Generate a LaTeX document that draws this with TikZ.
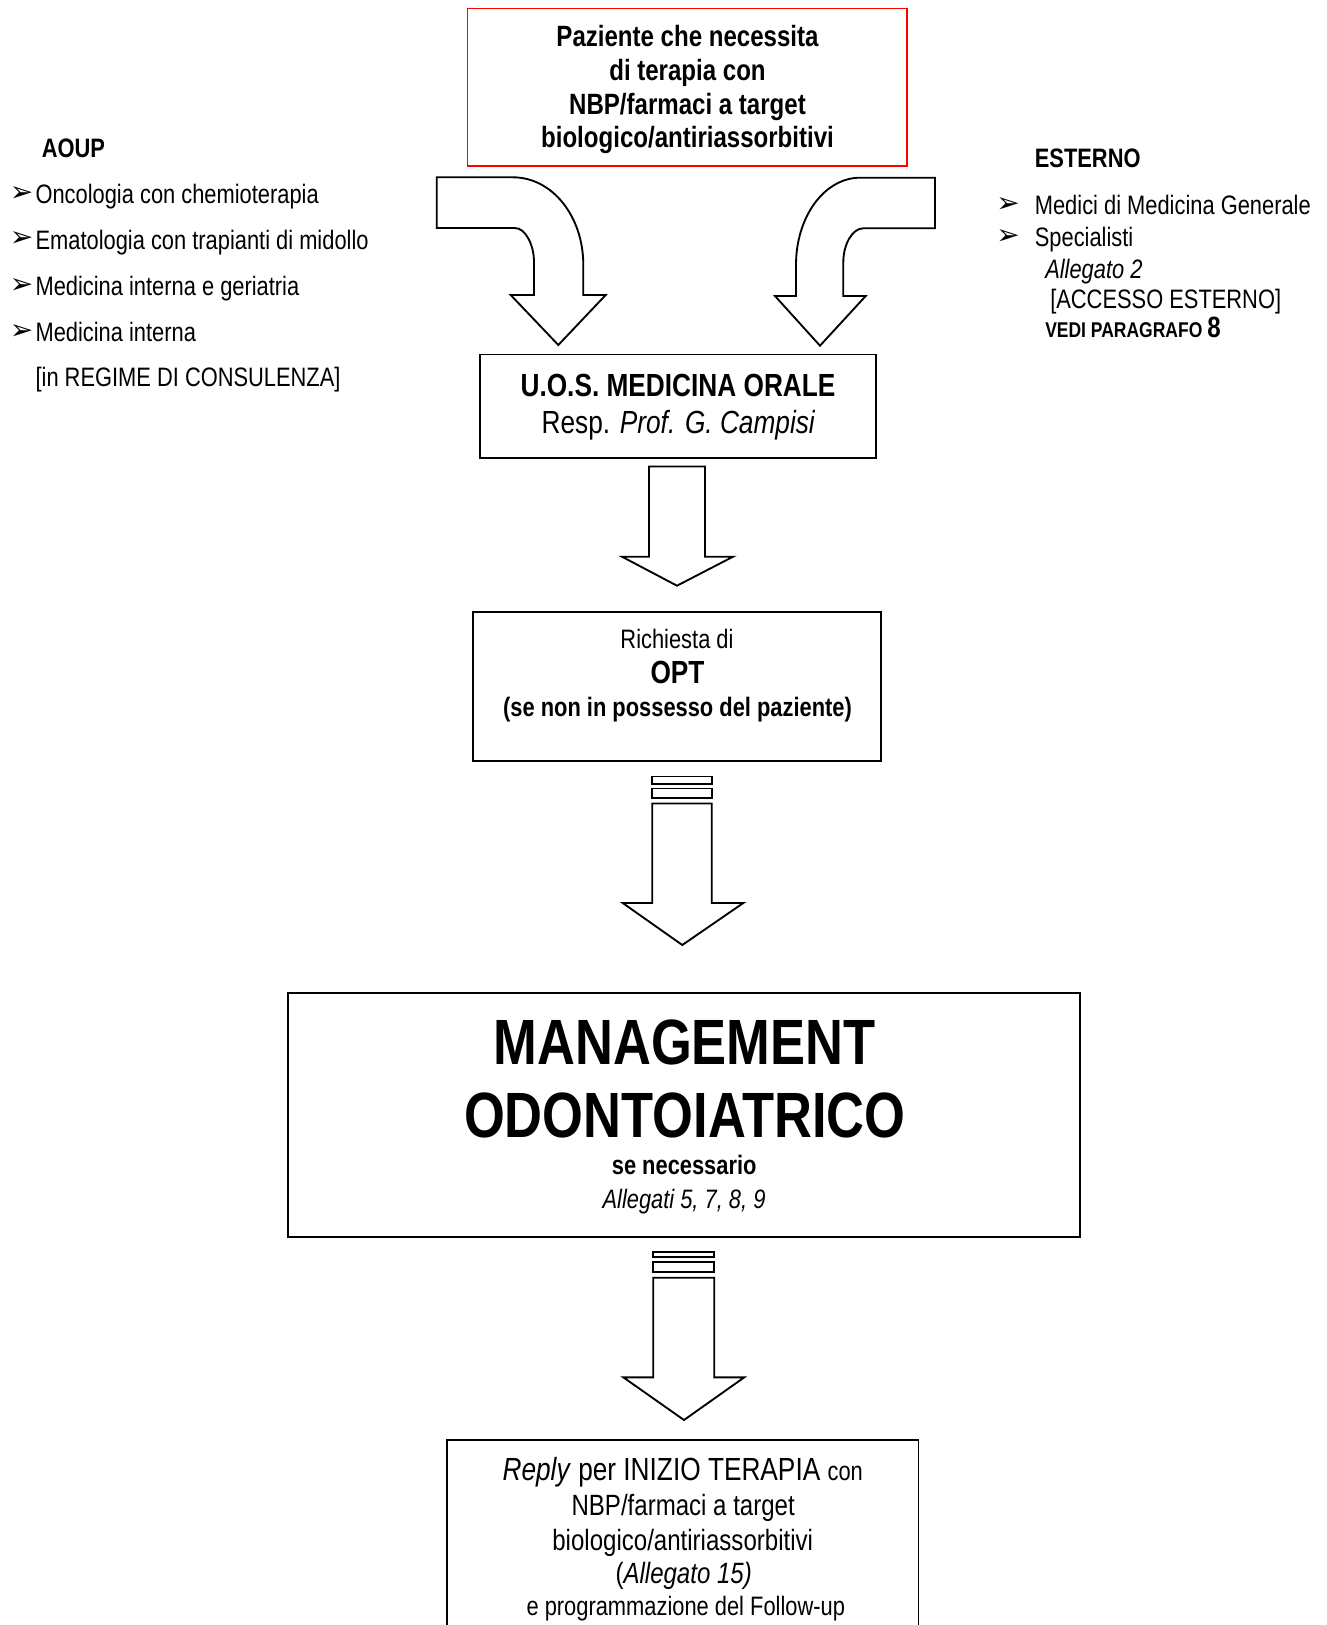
\documentclass[tikz,border=0pt]{standalone}
\usepackage{fontspec}
\setmainfont{Liberation Sans}[FakeStretch=0.82]
\newfontfamily\dejavu{DejaVu Sans}
\begin{document}
\begin{tikzpicture}[x=0.75pt,y=-0.75pt,line join=miter,
  box/.style={draw, line width=1.4pt, inner sep=0pt},
  ln/.style={anchor=base, inner sep=0pt},
  lw/.style={anchor=base west, inner sep=0pt},
  bul/.style={inner sep=0pt, font=\dejavu\fontsize{21}{21}\selectfont},
  blk/.style={draw, line width=1.4pt, fill=white},
  fA/.style={font=\fontsize{20}{24}\selectfont},
  fB/.style={font=\fontsize{22}{25}\selectfont}]
\useasboundingbox (0,0) rectangle (1327,1625);
\fill[white] (0,0) rectangle (1327,1625);

% ---------- boxes ----------
\node[box, draw=red, line width=1.2pt, minimum width=329.6pt, minimum height=118.2pt] (top) at (687.4,87.1) {};
\node[box, minimum width=297pt, minimum height=77.8pt] (uos) at (678,406.4) {};
\node[box, minimum width=306.4pt, minimum height=112pt] (opt) at (677,686.3) {};
\node[box, minimum width=594pt, minimum height=182.7pt] (man) at (684.2,1115) {};
\node[box, minimum width=353.8pt, minimum height=150pt] (rep) at (682.6,1540) {};

% ---------- top box text ----------
\node[ln, font=\bfseries\fontsize{22}{25}\selectfont] (t1) at (687.5,46.8) {Paziente che necessita};
\node[ln, font=\bfseries\fontsize{22}{25}\selectfont] (t2) at (687.5,80) {di terapia con};
\node[ln, font=\bfseries\fontsize{22}{25}\selectfont] (t3) at (687.5,114.2) {NBP/farmaci a target};
\node[ln, font=\bfseries\fontsize{22}{25}\selectfont] (t4) at (687.5,147.3) {biologico/antiriassorbitivi};

% ---------- UOS ----------
\node[ln, font=\bfseries\fontsize{24}{28}\selectfont] (u1) at (678,396) {U.O.S. MEDICINA ORALE};
\node[ln, font=\fontsize{24}{28}\selectfont] (u2) at (678.5,433.5) {Resp. \textit{Prof. G. Campisi}};

% ---------- OPT ----------
\node[ln, fA] (o1) at (677,648) {Richiesta di};
\node[ln, font=\bfseries\fontsize{24}{28}\selectfont] (o2) at (677.5,683) {OPT};
\node[ln, font=\bfseries\fontsize{20}{24}\selectfont] (o3) at (677.5,716.5) {(se non in possesso del paziente)};

% ---------- MANAGEMENT ----------
\node[ln, font=\bfseries\fontsize{48}{52}\selectfont] (m1) at (684.7,1064.8) {MANAGEMENT};
\node[ln, font=\bfseries\fontsize{48}{52}\selectfont] (m2) at (684.7,1137.5) {ODONTOIATRICO};
\node[ln, font=\bfseries\fontsize{20}{24}\selectfont] (m3) at (684.2,1174.5) {se necessario};
\node[ln, font=\itshape\fontsize{20}{24}\selectfont] (m4) at (684,1208) {Allegati 5, 7, 8, 9};

% ---------- Reply ----------
\node[ln, font=\fontsize{24}{26}\selectfont] (r1) at (682.7,1480.5) {\textit{Reply} per INIZIO TERAPIA {\fontsize{20}{22}\selectfont con}};
\node[ln, fB] (r2) at (683.2,1515.8) {NBP/farmaci a target};
\node[ln, fB] (r3) at (682.7,1550.1) {biologico/antiriassorbitivi};
\node[ln, fB] (r4) at (683.7,1583.2) {(\textit{Allegato 15)}};
\node[ln, fA] (r5) at (685.8,1615.4) {e programmazione del Follow-up};

% ---------- AOUP list ----------
\node[lw, font=\bfseries\fontsize{20}{24}\selectfont] (aoup) at (41.5,157.6) {AOUP};
\node[bul] (b1) at (21.7,193.9) {➢};
\node[lw, fA] (a1) at (35.3,203.4) {Oncologia con chemioterapia};
\node[bul] (b2) at (21.7,239.5) {➢};
\node[lw, fA] (a2) at (35.3,249) {Ematologia con trapianti di midollo};
\node[bul] (b3) at (21.7,286.1) {➢};
\node[lw, fA] (a3) at (35.3,295.6) {Medicina interna e geriatria};
\node[bul] (b4) at (21.7,331.7) {➢};
\node[lw, fA] (a4) at (35.3,341.2) {Medicina interna};
\node[lw, fA] (a5) at (35.3,386.9) {[in REGIME DI CONSULENZA]};

% ---------- ESTERNO list ----------
\node[lw, font=\bfseries\fontsize{20}{24}\selectfont] (est) at (1034.6,167) {ESTERNO};
\node[bul] (b5) at (1008,205.3) {➢};
\node[lw, fA] (e1) at (1034.6,214.8) {Medici di Medicina Generale};
\node[bul] (b6) at (1008,237.4) {➢};
\node[lw, fA] (e2) at (1034.6,246.9) {Specialisti};
\node[lw, font=\itshape\fontsize{20}{24}\selectfont] (e3) at (1045,278) {Allegato 2};
\node[lw, fA] (e4) at (1050,308) {[ACCESSO ESTERNO]};
\node[lw, font=\bfseries\fontsize{16}{18}\selectfont] (e5) at (1045,337.5) {VEDI PARAGRAFO {\fontsize{22}{24}\selectfont 8}};

% ---------- curved arrows ----------
\draw[blk] (436.7,177.3) -- (513,177.3)
  .. controls (552,177.3) and (583.3,216) .. (583.3,265)
  -- (583.3,295) -- (605.7,295) -- (558.3,345) -- (510.7,295) -- (534,295) -- (534,262)
  .. controls (534,245) and (525.5,228) .. (515,228)
  -- (436.7,228) -- cycle;
\draw[blk] (935,177.7) -- (860,177.7)
  .. controls (825,177.7) and (796,216) .. (796,265)
  -- (796,296) -- (775,296) -- (820,345.7) -- (865.7,296) -- (843.3,296) -- (843.3,262)
  .. controls (843.3,245) and (852,228.3) .. (863.3,228.3)
  -- (935,228.3) -- cycle;

% ---------- straight arrow ----------
\draw[blk] (649,466.5) -- (705,466.5) -- (705,556.7) -- (733,556.7) -- (677,585.7)
  -- (622,556.7) -- (649,556.7) -- cycle;

% ---------- striped arrow 1 ----------
\draw[blk] (652.3,776.5) rectangle (711.7,784);
\draw[blk] (652.3,788.5) rectangle (711.7,798);
\draw[blk] (652.3,803.5) -- (711.7,803.5) -- (711.7,903) -- (743.3,903) -- (682.3,945)
  -- (622.7,903) -- (652.3,903) -- cycle;

% ---------- striped arrow 2 ----------
\draw[blk] (653.3,1251.7) rectangle (714.3,1256.7);
\draw[blk] (653.3,1261.7) rectangle (714.3,1272.3);
\draw[blk] (653.3,1277.7) -- (714.3,1277.7) -- (714.3,1377.3) -- (744.3,1377.3) -- (684,1420)
  -- (623.3,1377.3) -- (653.3,1377.3) -- cycle;
\end{tikzpicture}
\end{document}
